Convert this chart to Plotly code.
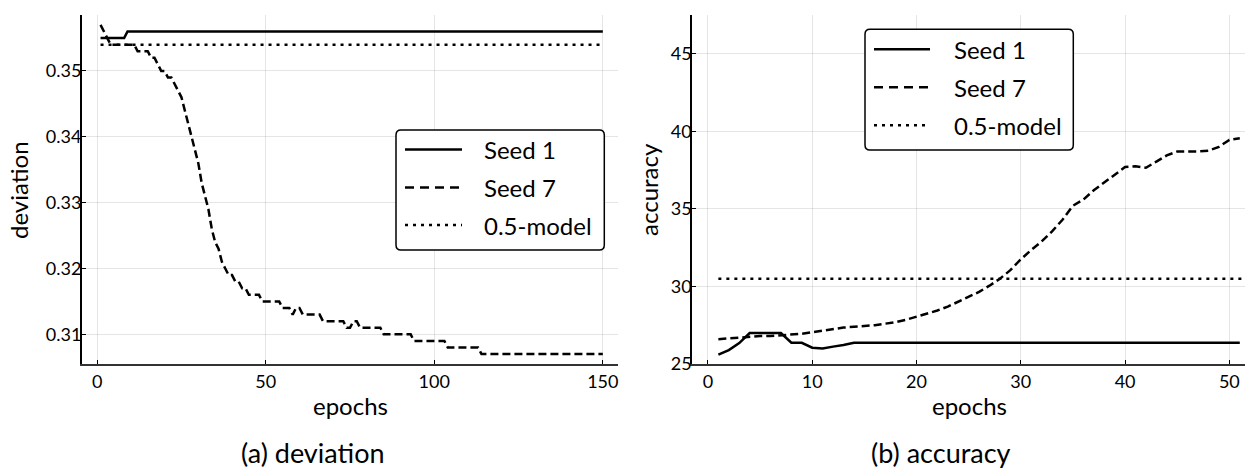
import plotly.graph_objects as go

# ---------------- data ----------------
epochs_dev = list(range(1, 151))
dev_seed1 = [
    0.355, 0.355, 0.355, 0.355, 0.355, 0.355, 0.355, 0.355, 0.356, 0.356,
    0.356, 0.356, 0.356, 0.356, 0.356, 0.356, 0.356, 0.356, 0.356, 0.356,
    0.356, 0.356, 0.356, 0.356, 0.356, 0.356, 0.356, 0.356, 0.356, 0.356,
    0.356, 0.356, 0.356, 0.356, 0.356, 0.356, 0.356, 0.356, 0.356, 0.356,
    0.356, 0.356, 0.356, 0.356, 0.356, 0.356, 0.356, 0.356, 0.356, 0.356,
    0.356, 0.356, 0.356, 0.356, 0.356, 0.356, 0.356, 0.356, 0.356, 0.356,
    0.356, 0.356, 0.356, 0.356, 0.356, 0.356, 0.356, 0.356, 0.356, 0.356,
    0.356, 0.356, 0.356, 0.356, 0.356, 0.356, 0.356, 0.356, 0.356, 0.356,
    0.356, 0.356, 0.356, 0.356, 0.356, 0.356, 0.356, 0.356, 0.356, 0.356,
    0.356, 0.356, 0.356, 0.356, 0.356, 0.356, 0.356, 0.356, 0.356, 0.356,
    0.356, 0.356, 0.356, 0.356, 0.356, 0.356, 0.356, 0.356, 0.356, 0.356,
    0.356, 0.356, 0.356, 0.356, 0.356, 0.356, 0.356, 0.356, 0.356, 0.356,
    0.356, 0.356, 0.356, 0.356, 0.356, 0.356, 0.356, 0.356, 0.356, 0.356,
    0.356, 0.356, 0.356, 0.356, 0.356, 0.356, 0.356, 0.356, 0.356, 0.356,
    0.356, 0.356, 0.356, 0.356, 0.356, 0.356, 0.356, 0.356, 0.356, 0.356,
]
dev_seed7 = [
    0.357, 0.356, 0.355, 0.354, 0.354, 0.354, 0.354, 0.354, 0.354, 0.354,
    0.354, 0.353, 0.353, 0.353, 0.353, 0.352, 0.352, 0.351, 0.350, 0.350,
    0.349, 0.349, 0.348, 0.347, 0.346, 0.344, 0.342, 0.340, 0.338, 0.336,
    0.333, 0.331, 0.329, 0.326, 0.324, 0.323, 0.321, 0.320, 0.319, 0.319,
    0.318, 0.318, 0.317, 0.317, 0.316, 0.316, 0.316, 0.316, 0.315, 0.315,
    0.315, 0.315, 0.315, 0.315, 0.314, 0.314, 0.314, 0.313, 0.314, 0.314,
    0.313, 0.313, 0.313, 0.313, 0.313, 0.313, 0.312, 0.312, 0.312, 0.312,
    0.312, 0.312, 0.312, 0.311, 0.311, 0.312, 0.312, 0.311, 0.311, 0.311,
    0.311, 0.311, 0.311, 0.311, 0.310, 0.310, 0.310, 0.310, 0.310, 0.310,
    0.310, 0.310, 0.310, 0.309, 0.309, 0.309, 0.309, 0.309, 0.309, 0.309,
    0.309, 0.309, 0.309, 0.308, 0.308, 0.308, 0.308, 0.308, 0.308, 0.308,
    0.308, 0.308, 0.308, 0.307, 0.307, 0.307, 0.307, 0.307, 0.307, 0.307,
    0.307, 0.307, 0.307, 0.307, 0.307, 0.307, 0.307, 0.307, 0.307, 0.307,
    0.307, 0.307, 0.307, 0.307, 0.307, 0.307, 0.307, 0.307, 0.307, 0.307,
    0.307, 0.307, 0.307, 0.307, 0.307, 0.307, 0.307, 0.307, 0.307, 0.307,
]
dev_model = 0.354

epochs_acc = list(range(1, 52))
acc_seed1 = [
    25.6, 25.9, 26.35, 27.0, 27.0, 27.0, 27.0, 26.37, 26.37, 26.05,
    26.0, 26.12, 26.22, 26.37, 26.37, 26.37, 26.37, 26.37, 26.37, 26.37,
    26.37, 26.37, 26.37, 26.37, 26.37, 26.37, 26.37, 26.37, 26.37, 26.37,
    26.37, 26.37, 26.37, 26.37, 26.37, 26.37, 26.37, 26.37, 26.37, 26.37,
    26.37, 26.37, 26.37, 26.37, 26.37, 26.37, 26.37, 26.37, 26.37, 26.37,
    26.37,
]
acc_seed7 = [
    26.6, 26.65, 26.7, 26.75, 26.8, 26.8, 26.85, 26.9, 26.95, 27.05,
    27.15, 27.25, 27.35, 27.4, 27.45, 27.5, 27.6, 27.7, 27.85, 28.05,
    28.25, 28.45, 28.7, 29.0, 29.3, 29.65, 30.05, 30.5, 31.05, 31.75,
    32.35, 32.9, 33.55, 34.3, 35.2, 35.6, 36.2, 36.7, 37.2, 37.7,
    37.75, 37.65, 38.05, 38.45, 38.7, 38.7, 38.7, 38.75, 39.0, 39.45,
    39.55,
]
acc_model = 30.5

series_names = ["Seed 1", "Seed 7", "0.5-model"]
dev_ticks = [0.31, 0.32, 0.33, 0.34, 0.35]
acc_ticks = [25, 30, 35, 40, 45]
captions = ["(a) deviation", "(b) accuracy"]

# ---------------- style ----------------
FONT = "Lato"
W, H = 1246, 469
ML, MR, MT, MB = 82, 1, 15, 105
PW, PH = W - ML - MR, H - MT - MB
BOTTOM = MT + PH

def px_x(px):
    return (px - ML) / PW

def px_y(py):
    return (BOTTOM - py) / PH

DASHES = ["solid", "8px,4px", "3px,5px"]
LW = 2.5

fig = go.Figure()

dev_series = [dev_seed1, dev_seed7]
acc_series = [acc_seed1, acc_seed7]
for i in range(2):
    fig.add_trace(go.Scatter(x=epochs_dev, y=dev_series[i], mode="lines", name=series_names[i],
                             line=dict(color="black", width=LW, dash=DASHES[i]),
                             showlegend=False, xaxis="x", yaxis="y"))
fig.add_trace(go.Scatter(x=[epochs_dev[0], epochs_dev[-1]], y=[dev_model, dev_model], mode="lines",
                         name=series_names[2], line=dict(color="black", width=LW, dash=DASHES[2]),
                         showlegend=False, xaxis="x", yaxis="y"))
for i in range(2):
    fig.add_trace(go.Scatter(x=epochs_acc, y=acc_series[i], mode="lines", name=series_names[i],
                             line=dict(color="black", width=LW, dash=DASHES[i]),
                             showlegend=False, xaxis="x2", yaxis="y2"))
fig.add_trace(go.Scatter(x=[epochs_acc[0], 52], y=[acc_model, acc_model], mode="lines",
                         name=series_names[2], line=dict(color="black", width=LW, dash=DASHES[2]),
                         showlegend=False, xaxis="x2", yaxis="y2", cliponaxis=True))

axis_common = dict(
    showline=True, linecolor="black", linewidth=2, mirror=False,
    showgrid=True, gridcolor="rgba(0,0,0,0.1)", gridwidth=1,
    zeroline=False, ticks="inside", ticklen=4, tickwidth=1, tickcolor="black",
    tickfont=dict(family=FONT, size=18, color="black"),
)

fig.update_layout(
    width=W, height=H,
    margin=dict(l=ML, r=MR, t=MT, b=MB),
    paper_bgcolor="white", plot_bgcolor="white",
    font=dict(family=FONT, color="black"),
    xaxis=dict(domain=[0, px_x(618)], range=[-4.5, 154.5], tickvals=[0, 50, 100, 150],
               anchor="y", linecolor="#333", **{k: v for k, v in axis_common.items() if k != "linecolor"}),
    yaxis=dict(domain=[0, 1], range=[0.3055, 0.3585], tickvals=dev_ticks,
               ticktext=[f"{t:.2f}" for t in dev_ticks], anchor="x", ticklabelstandoff=-5,
               **axis_common),
    xaxis2=dict(domain=[px_x(692.3), 1], range=[-1.5, 51.5], tickvals=[0, 10, 20, 30, 40, 50],
                anchor="y2", linecolor="#333", **{k: v for k, v in axis_common.items() if k != "linecolor"}),
    yaxis2=dict(domain=[0, 1], range=[25, 47.5], tickvals=acc_ticks, anchor="x2",
                ticklabelstandoff=-5, **axis_common),
)

annotations = []
shapes = []

# axis titles
annotations.append(dict(text="epochs", x=px_x(350), y=px_y(405), xref="paper", yref="paper",
                        xanchor="center", yanchor="middle", showarrow=False,
                        font=dict(family=FONT, size=24, color="black")))
annotations.append(dict(text="epochs", x=px_x(969), y=px_y(405), xref="paper", yref="paper",
                        xanchor="center", yanchor="middle", showarrow=False,
                        font=dict(family=FONT, size=24, color="black")))
annotations.append(dict(text="deviation", x=px_x(18), y=px_y(190), xref="paper", yref="paper",
                        xanchor="center", yanchor="middle", showarrow=False, textangle=-90,
                        font=dict(family=FONT, size=24, color="black")))
annotations.append(dict(text="accuracy", x=px_x(648), y=px_y(190), xref="paper", yref="paper",
                        xanchor="center", yanchor="middle", showarrow=False, textangle=-90,
                        font=dict(family=FONT, size=24, color="black")))
# captions
annotations.append(dict(text=captions[0], x=px_x(313), y=px_y(452), xref="paper", yref="paper",
                        xanchor="center", yanchor="middle", showarrow=False,
                        font=dict(family=FONT, size=27, color="black")))
annotations.append(dict(text=captions[1], x=px_x(941), y=px_y(452), xref="paper", yref="paper",
                        xanchor="center", yanchor="middle", showarrow=False,
                        font=dict(family=FONT, size=27, color="black")))

def rounded_box(x0, y0, x1, y1, r=5):
    X = px_x
    Y = px_y
    p = (f"M {X(x0 + r)} {Y(y0)} L {X(x1 - r)} {Y(y0)} Q {X(x1)} {Y(y0)} {X(x1)} {Y(y0 + r)} "
         f"L {X(x1)} {Y(y1 - r)} Q {X(x1)} {Y(y1)} {X(x1 - r)} {Y(y1)} "
         f"L {X(x0 + r)} {Y(y1)} Q {X(x0)} {Y(y1)} {X(x0)} {Y(y1 - r)} "
         f"L {X(x0)} {Y(y0 + r)} Q {X(x0)} {Y(y0)} {X(x0 + r)} {Y(y0)} Z")
    return dict(type="path", path=p, xref="paper", yref="paper",
                line=dict(color="black", width=1.5), fillcolor="white", layer="above")

LEG_DASH = ["solid", "9px,6px", "3px,5px"]

def add_legend(box, line_x0, line_x1, text_x, rows):
    shapes.append(rounded_box(*box))
    for k, ry in enumerate(rows):
        shapes.append(dict(type="line", xref="paper", yref="paper",
                           x0=px_x(line_x0), x1=px_x(line_x1), y0=px_y(ry), y1=px_y(ry),
                           line=dict(color="black", width=LW, dash=LEG_DASH[k]), layer="above"))
        annotations.append(dict(text=series_names[k], x=px_x(text_x), y=px_y(ry),
                                xref="paper", yref="paper", xanchor="left", yanchor="middle",
                                showarrow=False, font=dict(family=FONT, size=24, color="black")))

add_legend((396, 130, 604.3, 250), 405, 462, 482, [149.5, 187.5, 225])
add_legend((865, 29.3, 1073.3, 150), 874, 930, 951.7, [49.3, 87.3, 125.3])

fig.update_layout(annotations=annotations, shapes=shapes)

fig.write_html("out.html", config={"displayModeBar": False},
               post_script="document.body.style.margin='0';document.body.style.overflow='hidden';")
